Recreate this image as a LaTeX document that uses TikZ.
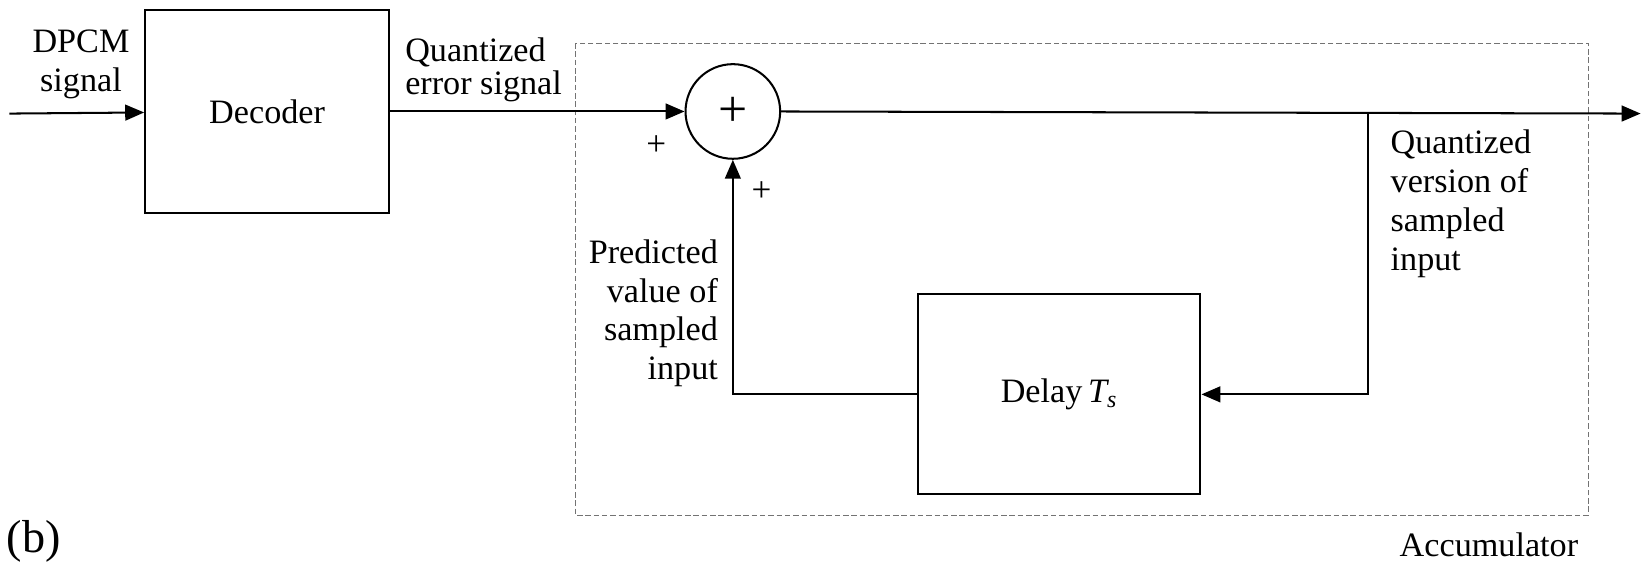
\documentclass[tikz,border=0pt]{standalone}
\usepackage{fontspec}
\setmainfont{Liberation Serif}
\usetikzlibrary{arrows.meta, positioning, calc}
\tikzstyle{block} = [rectangle, draw=black, line width=1.1pt, text centered]
\tikzstyle{sumnode} = [circle, draw=black, line width=1.1pt, minimum size=1.8cm, inner sep=0pt]
\tikzstyle{arrow} = [line width=1.1pt, -{Triangle[length=0.36cm, width=0.3cm]}]
\tikzstyle{label} = [inner sep=0pt]
\tikzstyle{sign} = [inner sep=0pt, font=\fontsize{19}{19}\selectfont]
\tikzstyle{accbox} = [draw=black!55, line width=0.5pt, dash pattern=on 3pt off 1.5pt]

\begin{document}
\begin{tikzpicture}[x=0.02cm, y=-0.02cm, font=\fontsize{18.5}{21}\selectfont]
    \useasboundingbox (0,0) rectangle (1568,540);

    % Accumulator box
    \draw [accbox] (547,41) rectangle (1510,490);
    \node (acc) [label, anchor=base east] at (1501,529) {Accumulator};

    % Decoder
    \coordinate (in) at (9,108);
    \node (dec) [block, minimum width=4.64cm, minimum height=3.86cm] at (254,106) {Decoder};
    \node (dpcm) [label, align=center, anchor=base] at (77,87) {DPCM\\signal};
    \node (qerr) [label, align=left, anchor=base west, font=\fontsize{18.5}{18}\selectfont] at (385,90) {Quantized\\error signal};

    % Summer and delay
    \node (sum) [sumnode, right=5.6cm of dec] {\fontsize{28}{28}\selectfont +};
    \node (delay) [block, minimum width=5.38cm, minimum height=3.8cm] at (1007,375) {Delay\,\textit{T\textsubscript{s}}};
    \node (p1) [sign] at (624,138) {+};
    \node (p2) [sign] at (724,182) {+};
    \coordinate (out) at (1560,108);
    \coordinate (branch) at (1301,108);

    % Labels on feedback
    \node (pred) [label, align=right, anchor=base east] at (683,361) {Predicted\\value of\\sampled\\input};
    \node (qver) [label, align=left, anchor=base west] at (1322,257) {Quantized\\version of\\sampled\\input};

    % Arrows
    \draw [arrow] (in) -- (dec);
    \draw [arrow] (dec.east |- sum.west) -- (sum.west);
    \draw [arrow] (sum.east) -- (out);
    \draw [arrow] (branch) |- (delay.east);
    \draw [arrow] (delay.west) -| (sum.south);

    \node (tag) [label, anchor=base west, font=\fontsize{25}{25}\selectfont] at (6,525) {(b)};
\end{tikzpicture}
\end{document}
